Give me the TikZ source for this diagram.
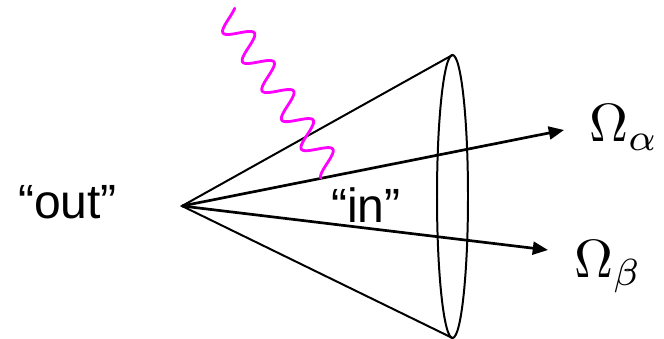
\documentclass[tikz,border=0pt]{standalone}
\usepackage{fontspec}
\setmainfont{Liberation Sans}
\usetikzlibrary{arrows.meta}
\definecolor{photonmag}{RGB}{255,0,255}

\begin{document}
\begin{tikzpicture}[x=0.03cm, y=-0.03cm,
  cone/.style={line width=1.7pt},
  ray/.style={line width=2.3pt, -{Triangle[length=13pt, width=11pt]}},
  photon/.style={photonmag, line width=2.4pt, line cap=round},
  word/.style={font=\fontsize{41}{49}\selectfont, inner sep=0pt, anchor=base west},
  omega/.style={font=\normalsize, scale=4.6, inner sep=0pt, anchor=base west}]
\useasboundingbox (0,0) rectangle (664,339);
% apex and rim of the cone
\coordinate (apex) at (182,206);
\coordinate (rim) at (452.5,196.5);
\coordinate (rimtop) at (452.5,55);
\coordinate (rimbot) at (452.5,338);
\draw[cone] (rimtop) -- (apex) -- (rimbot);
\draw[cone] (rim) ellipse (15.5 and 141.5);
% the two outgoing directions
\coordinate (tipA) at (564,130);
\coordinate (tipB) at (548,250);
\draw[ray] (apex) -- (tipA);
\draw[ray] (apex) -- (tipB);
\node[omega] (omA) at (588,142) {$\Omega_\alpha$};
\node[omega] (omB) at (573,277) {$\Omega_\beta$};
% incoming photon
\draw[photon] plot[domain=-14:175, samples=300, smooth]
  ({233.8+0.56*\x-10.79*cos(10.286*\x)}, {25.7+0.83*\x+7.28*cos(10.286*\x)});
% inside / outside
\node[word] (out) at (18,218) {“out”};
\node[word] (in) at (331,222) {“in”};
\end{tikzpicture}
\end{document}
